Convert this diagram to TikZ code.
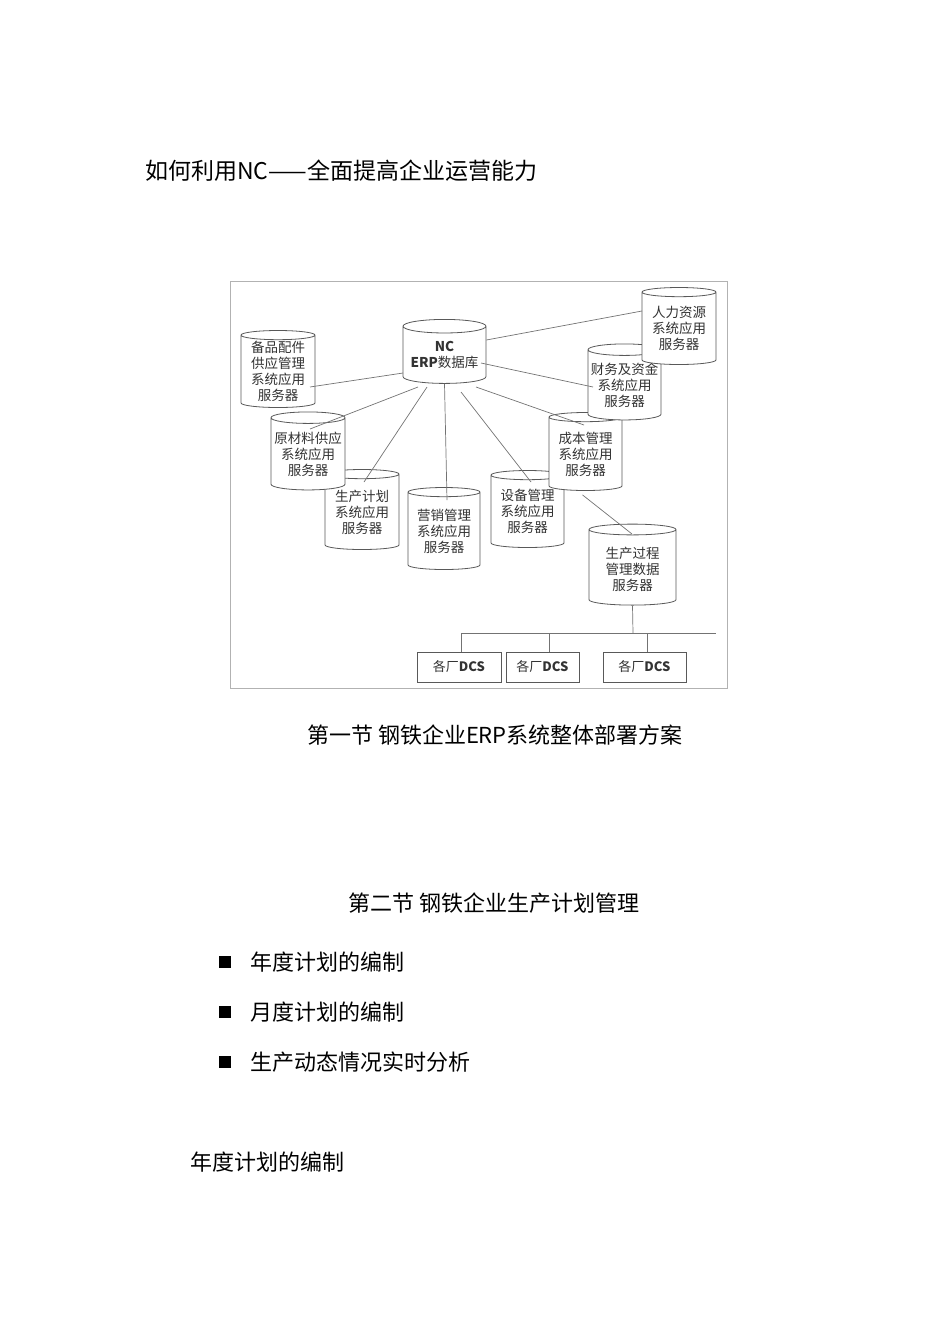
\documentclass[tikz,border=0pt]{standalone}
\usepackage{fontspec}
\setmainfont{Liberation Serif}
\newfontfamily\cjk{Noto Sans CJK SC}
\usetikzlibrary{shapes.geometric}
\tikzset{
 cyl/.style={cylinder, shape border rotate=90, draw=black!65, fill=white, line width=0.8pt, inner sep=0pt, font=\cjk\fontsize{13.5}{16}\selectfont, align=center, text=black!80},
 ln/.style={draw=black!55, line width=0.7pt},
 dcs/.style={draw=black!65, line width=0.8pt, fill=white, minimum width=#1, minimum height=30pt, inner sep=0pt, font=\cjk\fontsize{13}{14}\selectfont, text=black!80},
 txt/.style={font=\cjk\fontsize{22}{24}\selectfont, inner sep=0pt, anchor=west}
}
\newcommand\mycyl[7]{% name, x1, y1, x2, y2, text, aspect
 \node[cyl, aspect=#7, minimum width={(#4-#2)*1pt}, minimum height={(#5-#3)*1pt}] (#1) at ({(#2+#4)/2},{(#3+#5)/2}) {#6};}
\begin{document}
\begin{tikzpicture}[x=1pt,y=-1pt]
\useasboundingbox (0,0) rectangle (950,1344);
\node[txt, font=\cjk\fontsize{23}{24}\selectfont] (title) at (145,171) {如何利用NC——全面提高企业运营能力};
\draw[black!30, line width=0.8pt] (230,281) rectangle (727,688);
% cylinders
\mycyl{nc}{403}{323}{486}{387}{\textbf{NC}\\ \textbf{ERP}数据库}{0.2}
\mycyl{bp}{241}{333}{315}{410}{备品配件\\供应管理\\系统应用\\服务器}{0.17}
\mycyl{sc}{325}{472}{399}{552}{生产计划\\系统应用\\服务器}{0.17}
\mycyl{yc}{271}{415}{345}{493}{原材料供应\\系统应用\\服务器}{0.17}
\mycyl{yx}{408}{490}{480}{572}{营销管理\\系统应用\\服务器}{0.17}
\mycyl{sb}{491}{473}{564}{550}{设备管理\\系统应用\\服务器}{0.17}
\mycyl{cb}{549}{415}{622}{493}{成本管理\\系统应用\\服务器}{0.17}
\mycyl{cw}{588}{347}{661}{423}{财务及资金\\系统应用\\服务器}{0.17}
\mycyl{rl}{642}{290}{716}{367}{人力资源\\系统应用\\服务器}{0.17}
\mycyl{gc}{589}{527}{676}{608}{\\生产过程\\管理数据\\服务器}{0.2}
% connectors
\coordinate (e1) at (642,311); \draw[ln] (nc.east |- 0,340) -- (e1);
\coordinate (e2) at (310,387); \draw[ln] (403,373) -- (e2);
\coordinate (e3) at (593,387); \draw[ln] (481,363) -- (e3);
\coordinate (e4) at (584,425); \draw[ln] (476,387) -- (e4);
\coordinate (e5) at (310,429); \draw[ln] (418,387) -- (e5);
\coordinate (e6) at (364,482); \draw[ln] (427,387) -- (e6);
\coordinate (e7) at (447,500); \draw[ln] (nc.south) -- (e7);
\coordinate (e8) at (531,482); \draw[ln] (461,392) -- (e8);
\coordinate (e9) at (632,534); \draw[ln] (cb.south) ++(-3,4) -- (e9);
% DCS
\node[dcs=84pt] (d1) at (459,667) {各厂\textbf{DCS}};
\node[dcs=73pt] (d2) at (542.5,667) {各厂\textbf{DCS}};
\node[dcs=83pt] (d3) at (644.5,667) {各厂\textbf{DCS}};
\coordinate (b1) at (461,633); \coordinate (b2) at (716,633); \coordinate (b3) at (633,633);
\draw[ln] (b1) -- (b2);
\draw[ln] (gc.south) -- (b3);
\draw[ln] (b1) -- (d1.north -| b1);
\draw[ln] (549,633) -- (d2.north -| 549,0);
\draw[ln] (647,633) -- (d3.north -| 647,0);
% texts
\node[font=\cjk\fontsize{22}{24}\selectfont] (c1) at (495,735) {第一节\ 钢铁企业ERP系统整体部署方案};
\node[font=\cjk\fontsize{22}{24}\selectfont] (c2) at (494,903) {第二节\ 钢铁企业生产计划管理};
\node[txt] (b1t) at (250,962) {年度计划的编制};
\node[txt] (b2t) at (250,1012) {月度计划的编制};
\node[txt] (b3t) at (250,1062) {生产动态情况实时分析};
\foreach \y in {962,1012,1062} \fill (219,\y-6) rectangle (231,\y+6);
\node[txt] (h) at (190,1162) {年度计划的编制};
\end{tikzpicture}
\end{document}
